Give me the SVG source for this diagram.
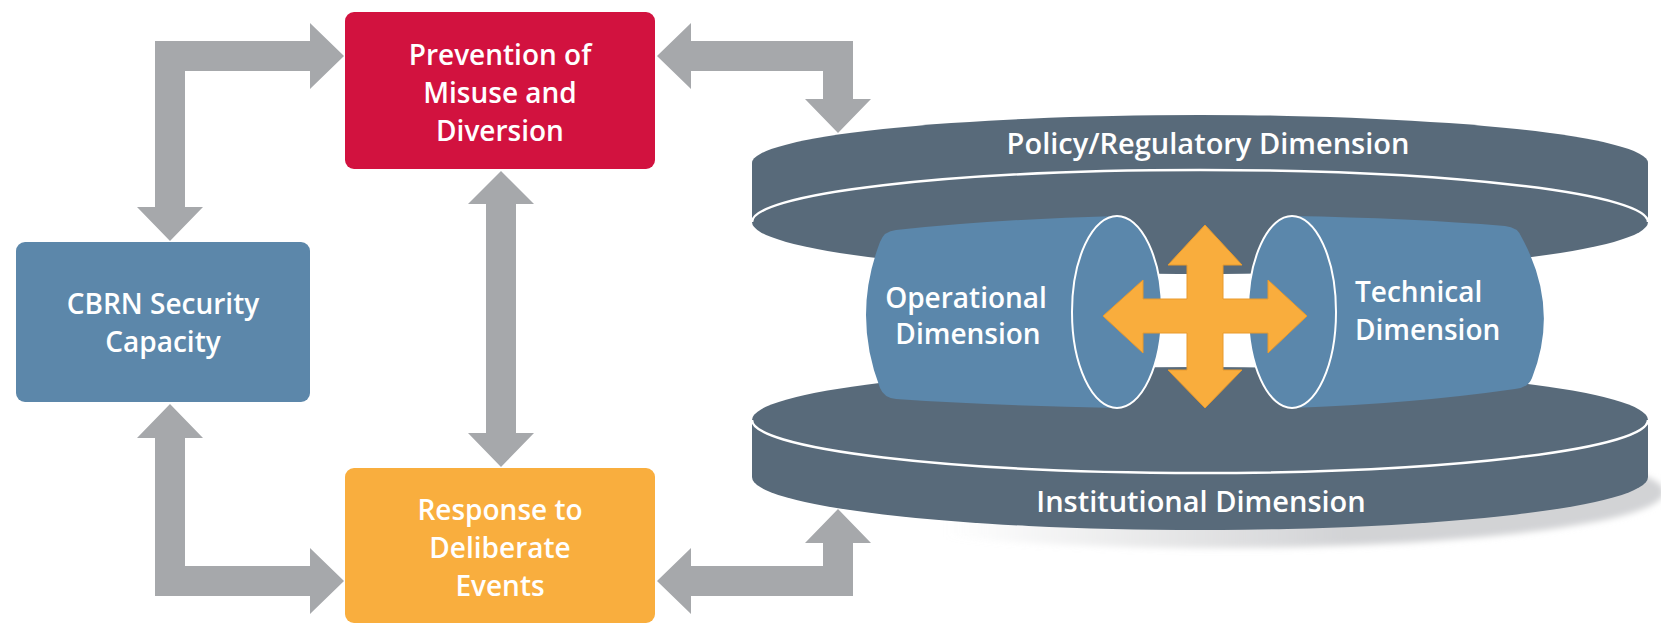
<svg xmlns="http://www.w3.org/2000/svg" width="1661" height="625" viewBox="0 0 1661 625">
<defs>
<style>
.lbl{font-family:"Open Sans","Liberation Sans",sans-serif;font-weight:600;fill:#ffffff;text-anchor:middle}
.bx{font-size:28px}
.dk{font-size:29px}
.cy{font-size:28px}
.disk{fill:#586a7a}
.rim{fill:none;stroke:#ffffff;stroke-width:2.5}
.cyl{fill:#5b87ab}
.sec{fill:#5b87ab;stroke:#ffffff;stroke-width:2}
.conn{fill:#a6a8ab}
</style>
<linearGradient id="shGrad" x1="0" y1="0" x2="1" y2="0">
<stop offset="0.2" stop-color="#d2d3d5" stop-opacity="0"/>
<stop offset="0.65" stop-color="#d2d3d5" stop-opacity="1"/>
</linearGradient>
<filter id="soft" x="-10%" y="-50%" width="120%" height="200%"><feGaussianBlur stdDeviation="3"/></filter>
</defs>

<g id="node-institutional">
<ellipse cx="1214" cy="492" rx="450" ry="56" fill="url(#shGrad)" filter="url(#soft)"/>
<path class="disk" d="M752,420 A448,53 0 0 1 1648,420 L1648,477 A448,53 0 0 1 752,477 Z"/>
<path class="rim" d="M752,420 A448,53 0 0 0 1648,420"/>
<text class="lbl dk" x="1201" y="512">Institutional Dimension</text>
</g>

<g id="node-policy">
<path class="disk" d="M752,163 A448,48 0 0 1 1648,163 L1648,222 A448,52 0 0 1 752,222 Z"/>
<path class="rim" d="M752,222 A448,52 0 0 1 1648,222"/>
<text class="lbl dk" x="1208" y="154">Policy/Regulatory Dimension</text>
</g>

<g id="node-operational">
<path class="cyl" d="M896,230 Q1000,219 1117,216 L1117,408 Q1000,406 896,399 Q884,398 880,388 Q852,315 880,242 Q884,231 896,230 Z"/>
<ellipse class="sec" cx="1117" cy="312" rx="45" ry="96"/>
<text class="lbl cy" x="966" y="308">Operational</text>
<text class="lbl cy" x="968" y="344">Dimension</text>
</g>

<g id="node-technical">
<path class="cyl" d="M1292,216 Q1410,218 1505,226 Q1518,227 1522,238 Q1560,308 1532,378 Q1528,388 1515,389 Q1410,404 1292,408 Z"/>
<ellipse class="sec" cx="1292" cy="312" rx="44" ry="96"/>
<text class="lbl cy" x="1355" y="302" style="text-anchor:start">Technical</text>
<text class="lbl cy" x="1355" y="340" style="text-anchor:start">Dimension</text>
</g>

<g id="cross-arrow">
<polygon fill="#f9ad3d" stroke="#e99a2c" stroke-width="1" points="1205,225 1242,265 1223,265 1223,299 1268,299 1268,280 1307,316 1268,353 1268,333 1223,333 1223,370 1242,370 1205,408 1168,370 1187,370 1187,333 1143,333 1143,353 1103,316 1143,280 1143,299 1187,299 1187,265 1168,265"/>
</g>

<g id="connectors">
<polygon class="conn" points="344,56 310,23 310,41 155,41 155,207 137,207 170,241 203,207 185,207 185,71 310,71 310,89"/>
<polygon class="conn" points="170,404 203,438 185,438 185,566 310,566 310,548 344,581 310,614 310,596 155,596 155,438 137,438"/>
<polygon class="conn" points="501,171 534,204 516,204 516,433 534,433 501,467 468,433 486,433 486,204 468,204"/>
<polygon class="conn" points="657,56 691,23 691,41 853,41 853,99 871,99 838,133 805,99 823,99 823,71 691,71 691,89"/>
<polygon class="conn" points="657,581 691,548 691,566 823,566 823,543 805,543 838,509 871,543 853,543 853,596 691,596 691,614"/>
</g>

<g id="node-prevention">
<rect x="345" y="12" width="310" height="157" rx="9" fill="#d2123f"/>
<text class="lbl bx" x="500" y="65">Prevention of</text>
<text class="lbl bx" x="500" y="103">Misuse and</text>
<text class="lbl bx" x="500" y="141">Diversion</text>
</g>

<g id="node-cbrn">
<rect x="16" y="242" width="294" height="160" rx="9" fill="#5c87aa"/>
<text class="lbl bx" x="163" y="314">CBRN Security</text>
<text class="lbl bx" x="163" y="352">Capacity</text>
</g>

<g id="node-response">
<rect x="345" y="468" width="310" height="155" rx="9" fill="#f9ae3e"/>
<text class="lbl bx" x="500" y="520">Response to</text>
<text class="lbl bx" x="500" y="558">Deliberate</text>
<text class="lbl bx" x="500" y="596">Events</text>
</g>
</svg>
